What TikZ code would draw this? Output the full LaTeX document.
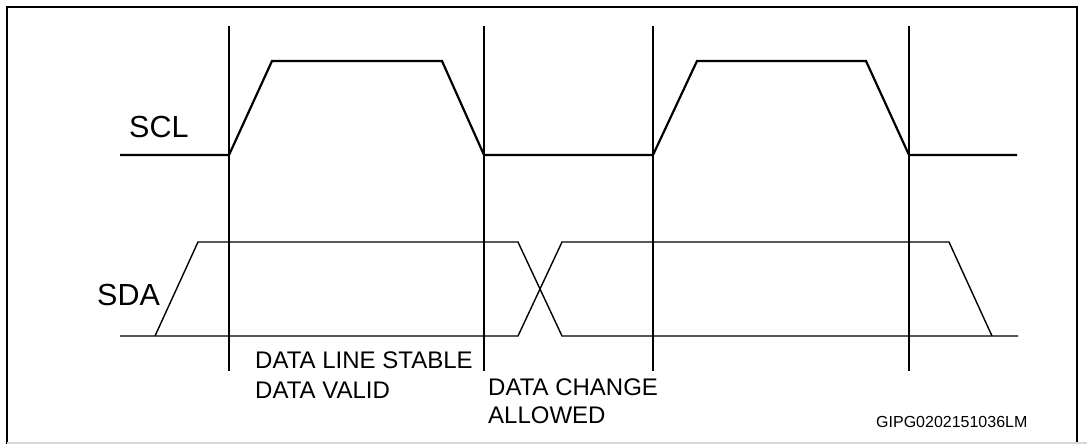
\documentclass[tikz,border=0pt]{standalone}
\usepackage{fontspec}
\setmainfont{Liberation Sans}
\begin{document}
\begin{tikzpicture}[x=1pt,y=-1pt,
  frameline/.style={line width=2pt,black},
  sclline/.style={line width=2.2pt,black,line join=miter},
  sdaline/.style={line width=1.4pt,black,line join=miter},
  marker/.style={line width=2pt,black},
  siglabel/.style={anchor=base west,inner sep=0pt,font=\fontsize{30.5}{30}\selectfont},
  notelabel/.style={anchor=base west,inner sep=0pt,font=\fontsize{24}{30}\selectfont},
  reflabel/.style={anchor=base west,inner sep=0pt,font=\fontsize{16}{16}\selectfont}]
\useasboundingbox (0,0) rectangle (1087,444);
% frame
\draw[frameline] (7,444) -- (7,7) -- (1077,7) -- (1077,444);
\draw[line width=1.5pt,black!15] (7,443) -- (1087,443);
% vertical markers
\foreach \xx/\nm in {229/va,484/vb,653/vc,909/vd}{
  \coordinate (\nm top) at (\xx,26);
  \coordinate (\nm bot) at (\xx,371);
  \draw[marker] (\nm top) -- (\nm bot);
}
% SCL
\draw[sclline] (120,155) -- (229,155) -- (272,61) -- (442,61) -- (484,155)
  -- (653,155) -- (697,61) -- (866,61) -- (909,155) -- (1017,155);
% SDA
\draw[sdaline] (120,336) -- (518,336) -- (562,242) -- (949,242) -- (992,336);
\draw[sdaline] (155,336) -- (198,242) -- (518,242) -- (562,336) -- (1018,336);
% labels
\node[siglabel] (scl) at (129,137) {SCL};
\node[siglabel] (sda) at (97,305) {SDA};
\node[notelabel] (stable1) at (255,368) {DATA LINE STABLE};
\node[notelabel] (stable2) at (255,398) {DATA VALID};
\node[notelabel] (change1) at (488,395) {DATA CHANGE};
\node[notelabel] (change2) at (488,423) {ALLOWED};
\node[reflabel] (ref) at (876,427) {GIPG0202151036LM};
\end{tikzpicture}
\end{document}
